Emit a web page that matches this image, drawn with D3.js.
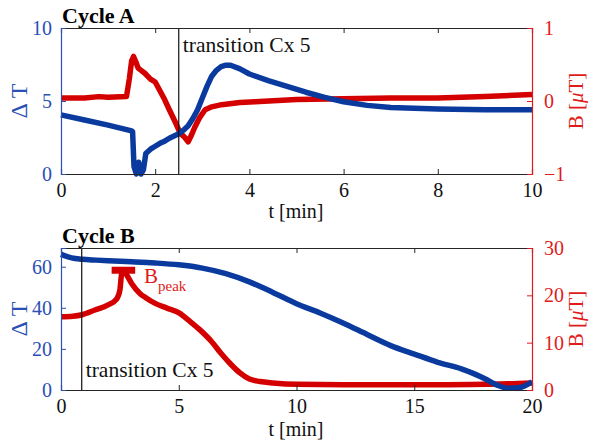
<!DOCTYPE html>
<html><head><meta charset="utf-8">
<script src="https://cdn.jsdelivr.net/npm/d3@7"></script>
<style>
body{margin:0;background:#fff;}
svg text{font-family:"Liberation Serif","Times New Roman",serif !important;}
</style></head>
<body><svg id="c" width="590" height="447"></svg>
<script>
// ---- data ----
const tA_dT = [0,0.5,1.0,1.5,1.52,1.55,1.6,1.65,1.7,1.75,1.8,1.9,2.0,2.1,2.2,2.3,2.4,2.5,2.6,2.7,2.8,2.9,3.0,3.1,3.2,3.3,3.4,3.5,3.6,3.8,4.0,4.4,4.8,5.2,5.6,6.0,6.5,7,8,9,10];
const dT_A  = [4.05,3.7,3.35,2.95,2.9,0.5,0,0.8,0,0.3,1.4,1.7,1.9,2.1,2.25,2.45,2.6,2.75,3.0,3.3,3.8,4.4,5.2,6.0,6.7,7.1,7.35,7.45,7.45,7.2,6.85,6.4,6.0,5.6,5.25,4.95,4.7,4.55,4.45,4.4,4.4];
const tA_B  = [0,0.5,0.8,1.0,1.39,1.45,1.5,1.54,1.58,1.64,1.7,1.78,1.9,2.0,2.1,2.2,2.3,2.42,2.53,2.63,2.7,2.76,2.84,2.95,3.06,3.2,3.41,3.8,4.12,5,6,7,8,9,10];
const B_A   = [0.04,0.04,0.06,0.05,0.06,0.3,0.55,0.61,0.55,0.45,0.42,0.38,0.3,0.26,0.14,0.02,-0.12,-0.28,-0.44,-0.5,-0.56,-0.48,-0.36,-0.22,-0.12,-0.08,-0.05,-0.02,-0.01,0.02,0.03,0.04,0.04,0.06,0.09];

const tB_dT = [0,0.3,0.6,0.9,1.5,2,3,4,5,6,7,8,9,10,11,12,13,14,15,16,17,17.5,18,18.5,19,19.5,20];
const dT_B  = [66,64.8,64,63.6,63.2,62.9,62.4,61.8,60.9,59.3,56.6,52.6,47.5,42,37.5,32.5,27,21.6,17.5,13.5,10.3,8.1,5.5,2.5,0.8,1.2,4];
const tB_B  = [0,0.5,0.9,1.44,2.0,2.36,2.5,2.58,2.65,2.79,3.0,3.35,3.6,4.0,4.5,5.05,5.4,5.9,6.4,6.8,7.2,7.6,8.0,8.45,9,10,12,14,16,18,19,20];
const B_B   = [15.5,15.6,15.9,16.9,18,19.2,21.1,24.7,25.2,24.3,22.5,20.4,19.5,18.3,17.3,16.2,14.8,12.7,10.2,7.7,5.5,3.6,2.3,1.8,1.5,1.2,1.1,1.1,1.1,1.2,1.3,1.5];
const peakT = [2.15,3.15];
const peakB = 25.3;

const xTicksA = [0,2,4,6,8,10], yLTicksA=[0,5,10], yRTicksA=[-1,0,1];
const xTicksB = [0,5,10,15,20], yLTicksB=[0,20,40,60], yRTicksB=[0,10,20,30];
const transA = 2.5, transB = 0.88;

const BLUE="#0b3a9e", RED="#d40000", AXBLUE="#2a4fb5", AXRED="#e01b1b", DARK="#262626";
const SERIF='"Liberation Serif","Times New Roman",serif';
const svg=d3.select("#c");

function panel(o){
  const g=svg.append("g");
  const x=d3.scaleLinear().domain(o.xd).range([61,532]);
  const yl=d3.scaleLinear().domain(o.yld).range([o.y1,o.y0]);
  const yr=d3.scaleLinear().domain(o.yrd).range([o.y1,o.y0]);
  const line=(xs,ys,sy)=>d3.line().curve(o.curve).x((d,i)=>x(xs[i])).y((d,i)=>sy(ys[i]))(ys);
  g.append("path").attr("d",line(o.tr,o.vr,yr)).attr("fill","none").attr("stroke",RED).attr("stroke-width",5.5).attr("stroke-linejoin","round");
  g.append("path").attr("d",line(o.tl,o.vl,yl)).attr("fill","none").attr("stroke",BLUE).attr("stroke-width",5.5).attr("stroke-linejoin","round");
  // transition line
  g.append("line").attr("x1",x(o.trans)).attr("x2",x(o.trans)).attr("y1",o.y0).attr("y2",o.y1).attr("stroke","#111").attr("stroke-width",1.2);
  g.append("text").attr("x",x(o.trans)+4).attr("y",o.transY).attr("font-size",21.5).attr("fill","#111").text("transition Cx 5");
  // x axis bottom & top
  const xb=g.append("g").attr("transform",`translate(0,${o.y1})`).call(d3.axisBottom(x).tickValues(o.xt).tickSize(-5).tickPadding(9).tickFormat(d3.format("d")));
  const xt=g.append("g").attr("transform",`translate(0,${o.y0})`).call(d3.axisTop(x).tickValues(o.xt).tickSize(-5).tickFormat(""));
  [xb,xt].forEach(a=>{a.attr("font-family",SERIF);a.select(".domain").attr("stroke",DARK).attr("stroke-width",1.2);a.selectAll(".tick line").attr("stroke",DARK);});
  xb.selectAll("text").style("font-family",SERIF).attr("font-size",20).attr("fill","#111");
  // left axis
  const al=g.append("g").attr("transform","translate(61,0)").attr("font-family",SERIF).call(d3.axisLeft(yl).tickValues(o.ylt).tickSize(-5).tickPadding(9).tickFormat(d3.format("d")));
  al.select(".domain").attr("stroke",AXBLUE).attr("stroke-width",1.2);
  al.selectAll(".tick line").attr("stroke",AXBLUE);
  al.selectAll("text").style("font-family",SERIF).attr("font-size",20).attr("fill",AXBLUE);
  // right axis
  const ar=g.append("g").attr("transform","translate(532,0)").call(d3.axisRight(yr).tickValues(o.yrt).tickSize(-5).tickPadding(12).tickFormat(d3.format("d")));
  ar.select(".domain").attr("stroke",AXRED).attr("stroke-width",1.2);
  ar.selectAll(".tick line").attr("stroke",AXRED);
  ar.selectAll("text").style("font-family",SERIF).attr("font-size",20).attr("fill",AXRED);
  // labels
  g.append("text").attr("x",62).attr("y",o.y0-5).attr("font-size",22).attr("font-weight","bold").attr("fill","#000").text(o.title);
  g.append("text").attr("x",296).attr("y",o.tY).attr("text-anchor","middle").attr("font-size",20).attr("fill","#111").text("t [min]");
  g.append("text").attr("transform",`translate(27,${(o.y0+o.y1)/2}) rotate(-90)`).attr("text-anchor","middle").attr("font-size",24).attr("fill",AXBLUE).text("\u0394 T");
  const bl=g.append("text").attr("transform",`translate(583,${(o.y0+o.y1)/2}) rotate(-90)`).attr("text-anchor","middle").attr("font-size",21).attr("fill",AXRED);
  bl.append("tspan").text("B [");
  bl.append("tspan").attr("font-style","italic").text("\u03BC");
  bl.append("tspan").text("T]");
  return {g,x,yl,yr};
}

panel({xd:[0,10],yld:[0,10],yrd:[-1,1],y0:28,y1:174,tl:tA_dT,vl:dT_A,tr:tA_B,vr:B_A,trans:transA,transY:52,
  xt:xTicksA,ylt:yLTicksA,yrt:yRTicksA,title:"Cycle A",tY:218,curve:d3.curveLinear});
const P=panel({xd:[0,20],yld:[0,69.1],yrd:[0,30],y0:248,y1:390,tl:tB_dT,vl:dT_B,tr:tB_B,vr:B_B,trans:transB,transY:377,
  xt:xTicksB,ylt:yLTicksB,yrt:yRTicksB,title:"Cycle B",tY:436,curve:d3.curveMonotoneX});
// B_peak marker
P.g.append("line").attr("x1",P.x(peakT[0])).attr("x2",P.x(peakT[1])).attr("y1",P.yr(peakB)).attr("y2",P.yr(peakB)).attr("stroke",RED).attr("stroke-width",7);
const bp=P.g.append("text").attr("x",144).attr("y",283).attr("font-size",21).attr("fill",AXRED);
bp.append("tspan").text("B");
bp.append("tspan").attr("font-size",15).attr("dy",8).text("peak");
</script></body></html>
